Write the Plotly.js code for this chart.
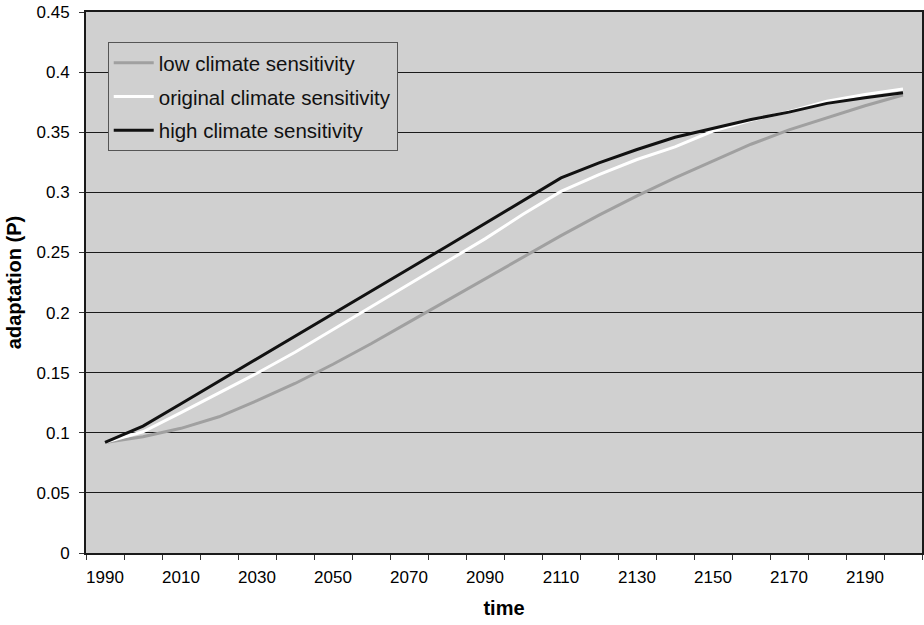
<!DOCTYPE html>
<html>
<head>
<meta charset="utf-8">
<script src="https://cdn.plot.ly/plotly-3.0.1.min.js"></script>
<style>html,body{margin:0;padding:0;background:#fff;}#chart{width:924px;height:625px;}</style>
</head>
<body>
<div id="chart"></div>
<script>
const years = [1990,2000,2010,2020,2030,2040,2050,2060,2070,2080,2090,2100,2110,2120,2130,2140,2150,2160,2170,2180,2190,2200];
const lowSens = [0.092,0.0967,0.1037,0.1133,0.1267,0.141,0.157,0.174,0.192,0.210,0.228,0.246,0.264,0.281,0.297,0.312,0.326,0.340,0.352,0.362,0.372,0.381];
const originalSens = [0.092,0.1008,0.1167,0.133,0.1495,0.167,0.186,0.205,0.2237,0.2425,0.2613,0.2817,0.3008,0.3148,0.3273,0.3378,0.351,0.360,0.367,0.3758,0.3814,0.386];
const highSens = [0.092,0.1056,0.1242,0.1428,0.1614,0.1803,0.199,0.2178,0.2364,0.2552,0.2739,0.293,0.312,0.3245,0.3356,0.3458,0.353,0.3606,0.3667,0.374,0.3787,0.3828];
const tickYears = [1990,2010,2030,2050,2070,2090,2110,2130,2150,2170,2190];
const seriesNames = ['low climate sensitivity','original climate sensitivity','high climate sensitivity'];

const font = 'Liberation Sans, Arial, sans-serif';
const traces = [
  {x: years, y: lowSens, name: seriesNames[0], legendgroup:'a', mode:'lines', line:{color:'#a0a0a0', width:3}},
  {x: years, y: originalSens, name: seriesNames[1], legendgroup:'b', mode:'lines', line:{color:'#ffffff', width:3}},
  {x: years, y: highSens, name: seriesNames[2], legendgroup:'c', mode:'lines', line:{color:'#111111', width:3}}
];
const layout = {
  width: 924, height: 625,
  margin: {l:86, r:2, t:12, b:72},
  paper_bgcolor: '#ffffff',
  plot_bgcolor: '#d0d0d0',
  font: {family: font, size: 17, color: '#000'},
  showlegend: true,
  legend: {x:0.026, y:0.9445, xanchor:'left', yanchor:'top', bgcolor:'#d0d0d0', bordercolor:'#555', borderwidth:1,
           font:{family:font, size:20.5, color:'#111'}, traceorder:'grouped', tracegroupgap:4, itemwidth:40},
  xaxis: {
    range: [1985, 2205], tickmode:'array', tickvals: tickYears, ticktext: tickYears.map(String),
    ticks:'outside', ticklen:8, tickcolor:'rgba(0,0,0,0)', showgrid:false, zeroline:false,
    showline:true, mirror:true, linecolor:'#1a1a1a', linewidth:2,
    minor:{ticks:'outside', tick0:1985, dtick:10, ticklen:5, tickcolor:'#333', tickwidth:1, showgrid:false},
    tickfont:{size:17, family:font},
    title:{text:'<b>time</b>', font:{size:20, family:font}, standoff:15}
  },
  yaxis: {
    range:[0,0.45], dtick:0.05, tick0:0, ticks:'outside', ticklen:5, tickcolor:'#333',
    ticklabelstandoff:6,
    showgrid:true, gridcolor:'#1a1a1a', gridwidth:1, zeroline:false,
    showline:true, mirror:true, linecolor:'#1a1a1a', linewidth:2,
    tickfont:{size:17, family:font},
    title:{text:'<b>adaptation (P)</b>', font:{size:20, family:font}, standoff:10}
  }
};
Plotly.newPlot('chart', traces, layout, {displayModeBar:false, staticPlot:true});
</script>
</body>
</html>
